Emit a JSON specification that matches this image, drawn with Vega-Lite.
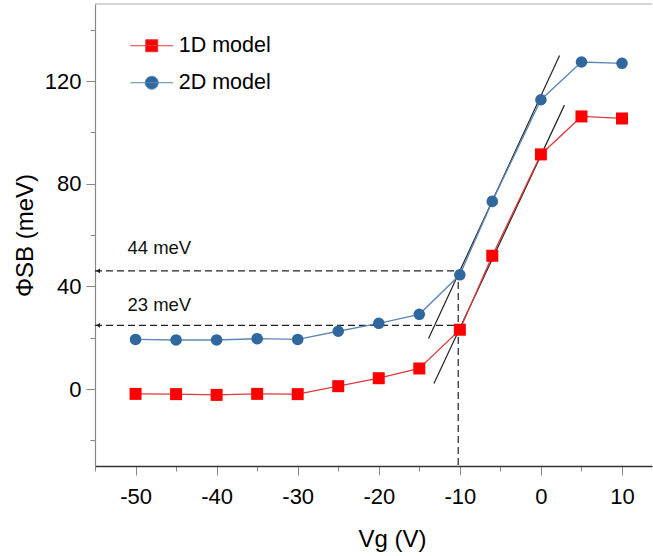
{
  "$schema": "https://vega.github.io/schema/vega-lite/v6.json",
  "width": 557,
  "height": 462,
  "autosize": {"type": "none"},
  "padding": {"left": 95, "top": 4, "right": 1, "bottom": 90},
  "config": {
    "font": "Liberation Sans",
    "view": {"stroke": null},
    "legend": {
      "orient": "none",
      "legendX": 46,
      "legendY": 31,
      "symbolSize": 144,
      "symbolStrokeWidth": 1,
      "symbolOpacity": 1,
      "labelFontSize": 21.5,
      "labelColor": "#000000",
      "labelOffset": 16.2,
      "rowPadding": 14
    }
  },
  "datasets": {
    "series": [
      {"Vg": -50, "phi": -1.9, "model": "1D model"},
      {"Vg": -45, "phi": -2.0, "model": "1D model"},
      {"Vg": -40, "phi": -2.3, "model": "1D model"},
      {"Vg": -35, "phi": -1.9, "model": "1D model"},
      {"Vg": -30, "phi": -2.0, "model": "1D model"},
      {"Vg": -25, "phi": 1.1, "model": "1D model"},
      {"Vg": -20, "phi": 4.2, "model": "1D model"},
      {"Vg": -15, "phi": 8.0, "model": "1D model"},
      {"Vg": -10, "phi": 23.1, "model": "1D model"},
      {"Vg": -6, "phi": 51.9, "model": "1D model"},
      {"Vg": 0, "phi": 91.4, "model": "1D model"},
      {"Vg": 5, "phi": 106.2, "model": "1D model"},
      {"Vg": 10, "phi": 105.4, "model": "1D model"},
      {"Vg": -50, "phi": 19.3, "model": "2D model"},
      {"Vg": -45, "phi": 19.1, "model": "2D model"},
      {"Vg": -40, "phi": 19.1, "model": "2D model"},
      {"Vg": -35, "phi": 19.6, "model": "2D model"},
      {"Vg": -30, "phi": 19.3, "model": "2D model"},
      {"Vg": -25, "phi": 22.5, "model": "2D model"},
      {"Vg": -20, "phi": 25.6, "model": "2D model"},
      {"Vg": -15, "phi": 29.1, "model": "2D model"},
      {"Vg": -10, "phi": 44.5, "model": "2D model"},
      {"Vg": -6, "phi": 73.1, "model": "2D model"},
      {"Vg": 0, "phi": 112.7, "model": "2D model"},
      {"Vg": 5, "phi": 127.4, "model": "2D model"},
      {"Vg": 10, "phi": 126.9, "model": "2D model"}
    ],
    "tangents": [
      {"Vg": -13.86, "phi": 19.7, "Vg2": 2.3, "phi2": 129.9},
      {"Vg": -13.2, "phi": 2.1, "Vg2": 2.9, "phi2": 110.6}
    ],
    "hdash": [
      {"Vg": -55, "Vg2": -10.2, "phi": 46.0, "label": "44 meV", "lx": -51, "ly": 52.5},
      {"Vg": -55, "Vg2": -10.2, "phi": 24.8, "label": "23 meV", "lx": -51, "ly": 30.4}
    ],
    "vdash": [
      {"Vg": -10.2, "phi": 46.0, "phi2": -30}
    ],
    "frame": [
      {"phi": 150}
    ]
  },
  "layer": [
    {
      "data": {"name": "tangents"},
      "mark": {"type": "rule", "color": "#222222", "strokeWidth": 1.2},
      "encoding": {
        "x": {
          "field": "Vg", "type": "quantitative",
          "scale": {"domain": [-55, 13.7], "nice": false, "zero": false},
          "axis": {
            "title": "Vg (V)",
            "values": [-55, -50, -45, -40, -35, -30, -25, -20, -15, -10, -5, 0, 5, 10],
            "labelExpr": "datum.value % 10 == 0 ? replace(datum.label, '−', '-') : ''",
            "tickSize": {"condition": {"test": "datum.value % 10 == 0", "value": 9}, "value": 5},
            "tickColor": "#888888",
            "domainColor": "#333333",
            "domainWidth": 1.5,
            "grid": false,
            "labelFontSize": 22,
            "labelColor": "#000000",
            "labelPadding": 11,
            "labelFlush": false,
            "labelOverlap": false,
            "titleFontSize": 24,
            "titleFontWeight": "normal",
            "titleColor": "#000000",
            "titlePadding": 20,
            "titleX": 297
          }
        },
        "y": {
          "field": "phi", "type": "quantitative",
          "scale": {"domain": [-30, 150], "nice": false, "zero": false},
          "axis": {
            "title": "ΦSB (meV)",
            "values": [-20, 0, 20, 40, 60, 80, 100, 120, 140],
            "labelExpr": "datum.value % 40 == 0 ? replace(datum.label, '−', '-') : ''",
            "tickSize": {"condition": {"test": "datum.value % 40 == 0", "value": 9}, "value": 5},
            "tickColor": "#888888",
            "domainColor": "#888888",
            "domainWidth": 1.2,
            "grid": false,
            "labelFontSize": 22,
            "labelColor": "#000000",
            "labelPadding": 5,
            "labelFlush": false,
            "labelOverlap": false,
            "titleFontSize": 24,
            "titleFontWeight": "normal",
            "titleColor": "#000000",
            "titlePadding": 7
          }
        },
        "x2": {"field": "Vg2"},
        "y2": {"field": "phi2"}
      }
    },
    {
      "data": {"name": "frame"},
      "mark": {"type": "rule", "color": "#aaaaaa", "strokeWidth": 1.2},
      "encoding": {
        "y": {"field": "phi", "type": "quantitative"}
      }
    },
    {
      "data": {"name": "hdash"},
      "mark": {"type": "rule", "color": "#222222", "strokeWidth": 1.2, "strokeDash": [7, 4]},
      "encoding": {
        "x": {"field": "Vg", "type": "quantitative"},
        "x2": {"field": "Vg2"},
        "y": {"field": "phi", "type": "quantitative"}
      }
    },
    {
      "data": {"name": "vdash"},
      "mark": {"type": "rule", "color": "#222222", "strokeWidth": 1.2, "strokeDash": [7, 4]},
      "encoding": {
        "x": {"field": "Vg", "type": "quantitative"},
        "y": {"field": "phi", "type": "quantitative"},
        "y2": {"field": "phi2"}
      }
    },
    {
      "data": {"name": "hdash"},
      "mark": {"type": "point", "shape": "triangle-left", "filled": true, "color": "#222222", "size": 22, "xOffset": 3, "opacity": 1},
      "encoding": {
        "x": {"field": "Vg", "type": "quantitative"},
        "y": {"field": "phi", "type": "quantitative"}
      }
    },
    {
      "data": {"name": "hdash"},
      "mark": {"type": "text", "align": "left", "baseline": "alphabetic", "fontSize": 18.5, "color": "#111111"},
      "encoding": {
        "x": {"field": "lx", "type": "quantitative"},
        "y": {"field": "ly", "type": "quantitative"},
        "text": {"field": "label"}
      }
    },
    {
      "data": {"name": "series"},
      "transform": [{"filter": "datum.model == '1D model'"}],
      "mark": {"type": "line", "strokeWidth": 1.3, "color": "#e0393b"},
      "encoding": {
        "x": {"field": "Vg", "type": "quantitative"},
        "y": {"field": "phi", "type": "quantitative"}
      }
    },
    {
      "data": {"name": "series"},
      "transform": [{"filter": "datum.model == '2D model'"}],
      "mark": {"type": "line", "strokeWidth": 1.3, "color": "#5d87b4"},
      "encoding": {
        "x": {"field": "Vg", "type": "quantitative"},
        "y": {"field": "phi", "type": "quantitative"}
      }
    },
    {
      "data": {"name": "series"},
      "transform": [{"filter": "datum.model == '1D model'"}],
      "mark": {"type": "point", "shape": "square", "filled": true, "opacity": 1, "size": 144, "color": "#ff0000"},
      "encoding": {
        "x": {"field": "Vg", "type": "quantitative"},
        "y": {"field": "phi", "type": "quantitative"}
      }
    },
    {
      "data": {"name": "series"},
      "transform": [{"filter": "datum.model == '2D model'"}],
      "mark": {"type": "point", "shape": "circle", "filled": true, "opacity": 1, "size": 135, "color": "#30679e"},
      "encoding": {
        "x": {"field": "Vg", "type": "quantitative"},
        "y": {"field": "phi", "type": "quantitative"}
      }
    },
    {
      "data": {"name": "series"},
      "transform": [{"filter": "false"}],
      "mark": {"type": "point", "filled": true, "opacity": 1, "strokeWidth": 1},
      "encoding": {
        "x": {"field": "Vg", "type": "quantitative"},
        "y": {"field": "phi", "type": "quantitative"},
        "fill": {
          "field": "model", "type": "nominal",
          "scale": {"domain": ["1D model", "2D model"], "range": ["#ff0000", "#30679e"]},
          "legend": {"title": null}
        },
        "stroke": {
          "field": "model", "type": "nominal",
          "scale": {"domain": ["1D model", "2D model"], "range": ["#e0393b", "#5d87b4"]},
          "legend": {"title": null}
        },
        "shape": {
          "field": "model", "type": "nominal",
          "scale": {"domain": ["1D model", "2D model"], "range": ["M-3.56,0H3.56M-1,-1H1V1H-1Z", "M-3.56,0H3.56M-1.08,0A1.08,1.08,0,1,1,1.08,0A1.08,1.08,0,1,1,-1.08,0Z"]},
          "legend": {"title": null}
        }
      }
    }
  ]
}
